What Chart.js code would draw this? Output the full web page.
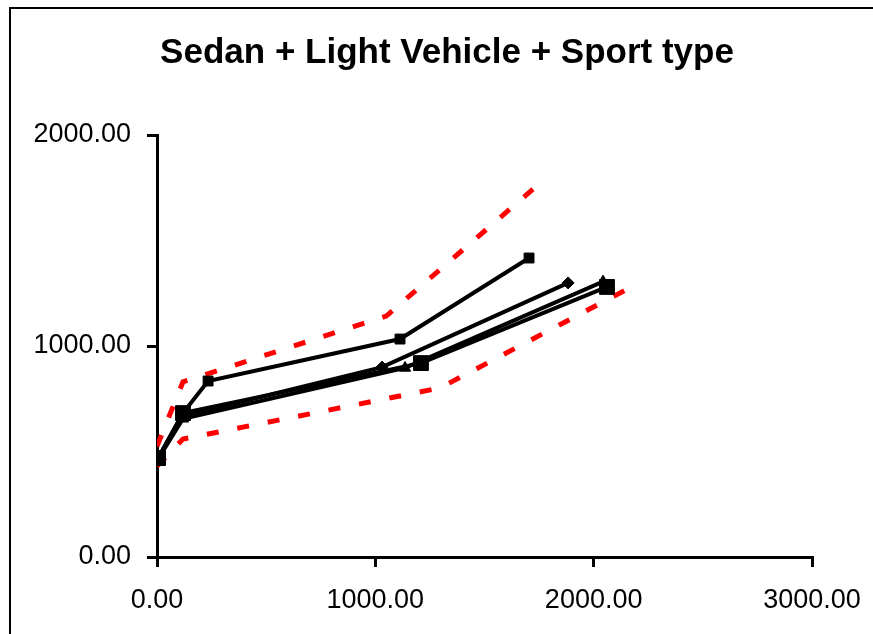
<!DOCTYPE html>
<html>
<head>
<meta charset="utf-8">
<script src="https://cdn.jsdelivr.net/npm/chart.js@4/dist/chart.umd.min.js"></script>
<style>
  html, body { margin: 0; padding: 0; background: #fff; }
  #wrap { position: relative; width: 873px; height: 634px; overflow: hidden; }
  #frame { position: absolute; left: 9px; top: 7px; width: 1000px; height: 1000px; border-left: 2px solid #000; border-top: 2px solid #000; }
  #chart { position: absolute; left: 0; top: 0; }
</style>
</head>
<body>
<div id="wrap">
  <div id="frame"></div>
  <canvas id="chart" width="873" height="634"></canvas>
</div>
<script>
const TITLE = 'Sedan + Light Vehicle + Sport type';

// x ticks and y ticks
const xTicks = [0, 1000, 2000, 3000];
const yTicks = [0, 1000, 2000];

// black series (x, y)
const smallSqX = [5, 119, 234, 1113, 1704];
const smallSqY = [469, 682, 834, 1033, 1417];

const diamondX = [5, 119, 1031, 1883];
const diamondY = [465, 668, 900, 1299];

const triangleX = [5, 119, 1136, 2043];
const triangleY = [465, 655, 896, 1305];

const bigSqX = [5, 119, 1209, 2061];
const bigSqY = [469, 682, 919, 1280];

// red dashed bounds
const upperX = [0, 119, 1050, 1754];
const upperY = [525, 830, 1142, 1772];

const lowerX = [0, 119, 1296, 2190];
const lowerY = [430, 559, 801, 1289];

const toPoints = (xs, ys) => xs.map((x, i) => ({ x, y: ys[i] }));

const font = "'Liberation Sans', Arial, sans-serif";

const blackLine = (label, xs, ys, pointStyle, radius) => ({
  label,
  data: toPoints(xs, ys),
  showLine: true,
  borderColor: '#000',
  backgroundColor: '#000',
  borderWidth: 4,
  pointStyle,
  pointRadius: radius,
  pointBorderWidth: 1,
  pointBackgroundColor: '#000',
  pointBorderColor: '#000',
  tension: 0
});

const redLine = (label, xs, ys) => ({
  label,
  data: toPoints(xs, ys),
  showLine: true,
  borderColor: '#ff0000',
  borderWidth: 5,
  borderDash: [12, 19],
  borderCapStyle: 'butt',
  pointRadius: 0,
  tension: 0
});

// title is centred on the whole frame, not on the plot
const titlePlugin = {
  id: 'frameTitle',
  afterDraw(chart) {
    const ctx = chart.ctx;
    ctx.save();
    ctx.fillStyle = '#000';
    ctx.font = `bold 35px ${font}`;
    ctx.textAlign = 'center';
    ctx.textBaseline = 'alphabetic';
    ctx.fillText(TITLE, 447, 63);
    ctx.restore();
  }
};

new Chart(document.getElementById('chart'), {
  type: 'scatter',
  data: {
    datasets: [
      blackLine('Big squares', bigSqX, bigSqY, 'rect', 10.5),
      blackLine('Small squares', smallSqX, smallSqY, 'rect', 7),
      blackLine('Diamonds', diamondX, diamondY, 'rectRot', 6),
      blackLine('Triangles', triangleX, triangleY, 'triangle', 6.5),
      redLine('Upper', upperX, upperY),
      redLine('Lower', lowerX, lowerY)
    ]
  },
  plugins: [titlePlugin],
  options: {
    responsive: false,
    animation: false,
    layout: { padding: { left: 0, right: 61, top: 135, bottom: 0 } },
    plugins: {
      legend: { display: false },
      tooltip: { enabled: false },
      title: { display: false }
    },
    scales: {
      x: {
        type: 'linear',
        min: xTicks[0],
        max: xTicks[xTicks.length - 1],
        afterBuildTicks: scale => { scale.ticks = xTicks.map(v => ({ value: v })); },
        afterFit: scale => { scale.height = 77; scale.paddingLeft = 0; scale.paddingRight = 0; },
        ticks: {
          color: '#000',
          padding: 17,
          maxRotation: 0,
          font: { family: font, size: 27 },
          callback: v => Number(v).toFixed(2)
        },
        grid: { display: true, drawOnChartArea: false, drawTicks: true, tickLength: 10, color: '#000', lineWidth: 3 },
        border: { display: true, color: '#000', width: 3 }
      },
      y: {
        type: 'linear',
        min: yTicks[0],
        max: yTicks[yTicks.length - 1],
        afterBuildTicks: scale => { scale.ticks = yTicks.map(v => ({ value: v })); },
        afterFit: scale => { scale.width = 157; },
        ticks: {
          color: '#000',
          padding: 16,
          font: { family: font, size: 27 },
          callback: v => Number(v).toFixed(2)
        },
        grid: { display: true, drawOnChartArea: false, drawTicks: true, tickLength: 10, color: '#000', lineWidth: 3 },
        border: { display: true, color: '#000', width: 3 }
      }
    }
  }
});
</script>
</body>
</html>
